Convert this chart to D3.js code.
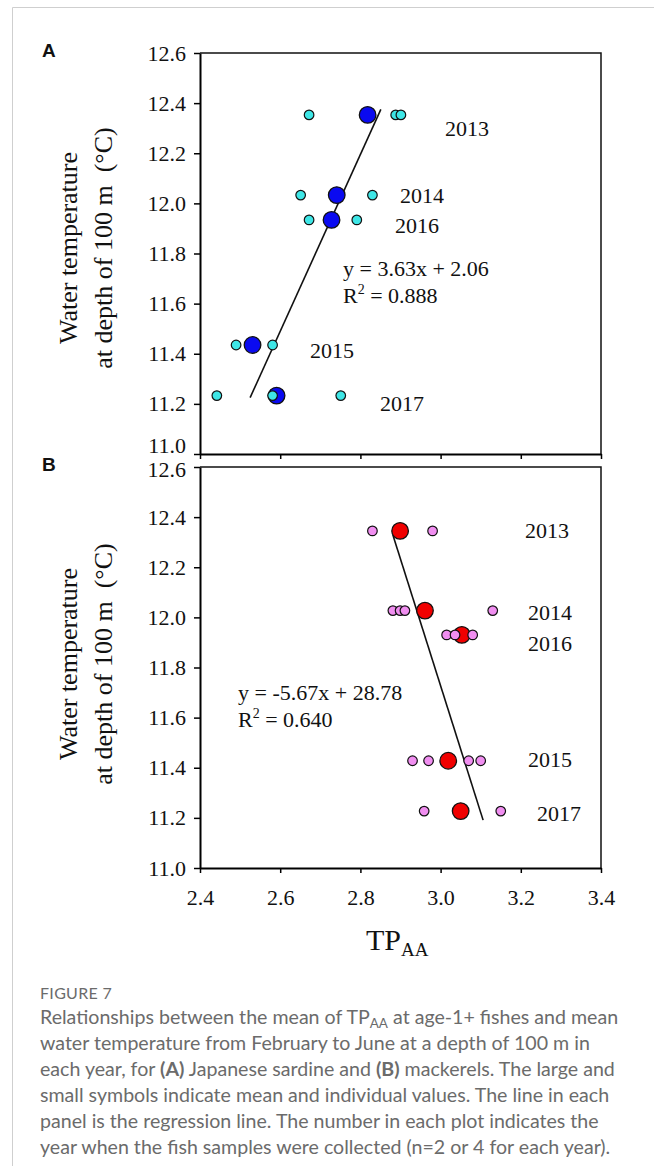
<!DOCTYPE html>
<html>
<head>
<meta charset="utf-8">
<script src="https://cdn.jsdelivr.net/npm/d3@7"></script>
<style>
  body { margin: 0; background: #fff; }
  svg { display: block; }
  .serif { font-family: "Liberation Serif", "Times New Roman", serif; fill: #111; }
  .tick text { font-family: "Liberation Serif", "Times New Roman", serif !important; }
  .cap { font-family: "Lato", "Open Sans", sans-serif; fill: #6b6b6b; }
</style>
</head>
<body>
<svg id="chart" width="654" height="1166"></svg>
<script>
// data
const years = ["2013", "2014", "2015", "2016", "2017"];

// (A) Japanese sardine
const sardineMeanX = [2.818, 2.741, 2.531, 2.728, 2.591];
const sardineMeanY = [12.353, 12.033, 11.435, 11.934, 11.233];
const sardineIndX = [[2.672, 2.888, 2.901], [2.651, 2.830], [2.490, 2.581], [2.672, 2.791], [2.442, 2.581, 2.751]];
const sardineLine = [[2.525, 11.225], [2.851, 12.375]];

// (B) mackerels
const mackerelMeanX = [2.899, 2.961, 3.019, 3.053, 3.050];
const mackerelMeanY = [12.345, 12.027, 11.428, 11.930, 11.227];
const mackerelIndX = [[2.830, 2.980], [2.881, 2.899, 2.911, 3.130], [2.930, 2.970, 3.070, 3.100], [3.015, 3.036, 3.080], [2.959, 3.150]];
const mackerelLine = [[2.881, 12.329], [3.106, 11.191]];

const xTicks = [2.4, 2.6, 2.8, 3.0, 3.2, 3.4];
const yTicks = [11.0, 11.2, 11.4, 11.6, 11.8, 12.0, 12.2, 12.4, 12.6];

const svg = d3.select("#chart");
const SERIF = "'Liberation Serif', 'Times New Roman', serif";

// page frame
svg.append("path").attr("d", "M12.5,1166V7.5H654").attr("fill", "none").attr("stroke", "#cfcfcf");

const x = d3.scaleLinear().domain([2.4, 3.4]).range([200, 601]);

function panel(opts) {
  const y = d3.scaleLinear().domain([11.0, 12.6]).range([opts.bottom, opts.top]);
  const g = svg.append("g");

  // box: top and right
  g.append("path")
    .attr("d", `M${x(2.4)},${opts.top}H${x(3.4)}V${opts.bottom}`)
    .attr("fill", "none").attr("stroke", "#111").attr("stroke-width", 1.5);

  const yAxis = g.append("g")
    .attr("transform", `translate(${x(2.4)},0)`)
    .call(d3.axisLeft(y).tickValues(yTicks).tickFormat(d3.format(".1f")).tickSize(6).tickSizeOuter(0).tickPadding(8));
  yAxis.attr("font-family", null).attr("font-size", null);
  yAxis.select(".domain").attr("stroke-width", 2);
  yAxis.selectAll("line").attr("stroke-width", 1.5);
  yAxis.selectAll("text").attr("fill", "#111")
    .style("font-family", SERIF).style("font-size", "22px")
    .attr("dy", d => d === 11.0 && !opts.showX ? "-0.05em" : (d === 12.6 && opts.showX ? "0.42em" : "0.32em"));

  const xAxis = g.append("g")
    .attr("transform", `translate(0,${opts.bottom})`)
    .call(d3.axisBottom(x).tickValues(xTicks).tickFormat(d3.format(".1f")).tickSize(5).tickSizeOuter(0).tickPadding(16));
  xAxis.attr("font-family", null).attr("font-size", null);
  xAxis.select(".domain").attr("stroke-width", 2);
  xAxis.selectAll("line").attr("stroke-width", 1.5);
  xAxis.selectAll("text").attr("fill", "#111")
    .style("font-family", SERIF).style("font-size", "22px")
    .style("display", opts.showX ? null : "none");

  // regression line
  g.append("line")
    .attr("x1", x(opts.line[0][0])).attr("y1", y(opts.line[0][1]))
    .attr("x2", x(opts.line[1][0])).attr("y2", y(opts.line[1][1]))
    .attr("stroke", "#111").attr("stroke-width", 1.6);

  // means
  g.selectAll("circle.mean")
    .data(years.map((yr, i) => ({x: opts.meanX[i], y: opts.meanY[i]})))
    .enter().append("circle").attr("class", "mean")
    .attr("cx", d => x(d.x)).attr("cy", d => y(d.y)).attr("r", 8.3)
    .attr("fill", opts.bigColor).attr("stroke", "#111").attr("stroke-width", 1.3);

  // individuals
  const ind = [];
  years.forEach((yr, i) => opts.indX[i].forEach(v => ind.push({x: v, y: opts.meanY[i]})));
  g.selectAll("circle.ind")
    .data(ind)
    .enter().append("circle").attr("class", "ind")
    .attr("cx", d => x(d.x)).attr("cy", d => y(d.y)).attr("r", 4.8)
    .attr("fill", opts.smallColor).attr("stroke", "#111").attr("stroke-width", 1.2);

  // year labels
  years.forEach((yr, i) => {
    g.append("text").attr("class", "serif").attr("font-size", 22)
      .attr("x", opts.yearPos[i][0]).attr("y", opts.yearPos[i][1]).attr("dy", "0.35em")
      .text(yr);
  });

  // equation
  g.append("text").attr("class", "serif").attr("font-size", 22)
    .attr("x", opts.eqPos[0]).attr("y", opts.eqPos[1]).attr("dy", "0.35em")
    .text(opts.eq);
  const r2 = g.append("text").attr("class", "serif").attr("font-size", 22)
    .attr("x", opts.eqPos[0]).attr("y", opts.eqPos[1] + 27).attr("dy", "0.35em");
  r2.append("tspan").text("R");
  r2.append("tspan").attr("font-size", 14).attr("dy", "-0.6em").text("2");
  r2.append("tspan").attr("dy", "0.4em").text(" = " + opts.r2);

  // y title
  const t = g.append("text").attr("class", "serif").attr("font-size", 26)
    .attr("text-anchor", "middle")
    .attr("transform", `translate(0,${opts.titleY}) rotate(-90)`);
  t.append("tspan").attr("x", 0).attr("y", 77).text("Water temperature");
  t.append("tspan").attr("x", 0).attr("y", 112).text("at depth of 100 m\u00a0 (\u00b0C)");

  // panel letter
  svg.append("text").attr("x", 42).attr("y", opts.top + 4)
    .attr("font-family", "Liberation Sans, Arial, sans-serif").attr("font-weight", "bold")
    .attr("font-size", 19).attr("fill", "#111").text(opts.letter);
}

panel({
  top: 53, bottom: 454, letter: "A", showX: false,
  meanX: sardineMeanX, meanY: sardineMeanY, indX: sardineIndX, line: sardineLine,
  bigColor: "#0a0af0", smallColor: "#3ee6e6",
  yearPos: [[445, 128], [400, 195], [310, 350], [395, 225], [380, 403]],
  eqPos: [343, 268], eq: "y = 3.63x + 2.06", r2: "0.888", titleY: 248
});

panel({
  top: 467, bottom: 868, letter: "B", showX: true,
  meanX: mackerelMeanX, meanY: mackerelMeanY, indX: mackerelIndX, line: mackerelLine,
  bigColor: "#f00000", smallColor: "#f08ef0",
  yearPos: [[525, 530], [528, 612], [528, 759], [528, 643], [537, 813]],
  eqPos: [238, 692], eq: "y = -5.67x + 28.78", r2: "0.640", titleY: 664
});

// x title
const xt = svg.append("text").attr("class", "serif").attr("font-size", 30)
  .attr("x", 366).attr("y", 950);
xt.append("tspan").text("TP");
xt.append("tspan").attr("font-size", 19).attr("dy", 6).text("AA");

// caption
svg.append("text").attr("class", "cap").attr("x", 40).attr("y", 999)
  .attr("font-size", 16).attr("letter-spacing", 0.3).text("FIGURE 7");

const capLines = [
  [["Relationships between the mean of TP", ""], ["AA", "sub"], [" at age-1+ fishes and mean", "after"]],
  [["water temperature from February to June at a depth of 100 m in", ""]],
  [["each year, for ", ""], ["(A)", "b"], [" Japanese sardine and ", ""], ["(B)", "b"], [" mackerels. The large and", ""]],
  [["small symbols indicate mean and individual values. The line in each", ""]],
  [["panel is the regression line. The number in each plot indicates the", ""]],
  [["year when the fish samples were collected (n=2 or 4 for each year).", ""]]
];
capLines.forEach((line, i) => {
  const t = svg.append("text").attr("class", "cap").attr("x", 40).attr("y", 1024 + i * 26)
    .attr("font-size", 19.6);
  line.forEach(([s, kind]) => {
    const sp = t.append("tspan").text(s);
    if (kind === "b") sp.attr("font-weight", "bold");
    if (kind === "sub") sp.attr("font-size", 13.5).attr("dy", 4);
    if (kind === "after") sp.attr("dy", -4);
  });
});
</script>
</body>
</html>
